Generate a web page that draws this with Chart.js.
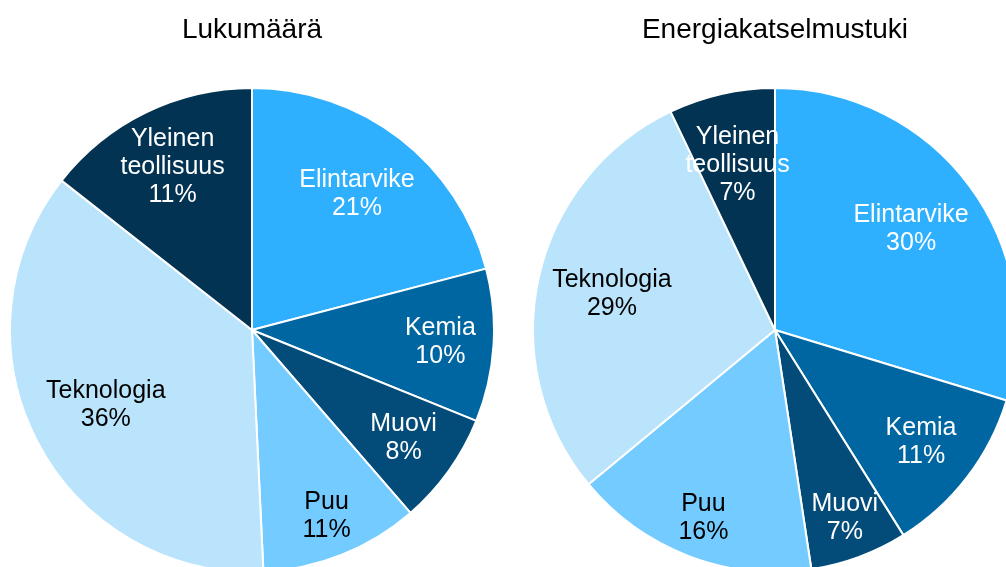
<!DOCTYPE html>
<html>
<head>
<meta charset="utf-8">
<script src="https://cdn.jsdelivr.net/npm/chart.js@4/dist/chart.umd.min.js"></script>
<style>
  html, body { margin: 0; padding: 0; background: #fff; overflow: hidden; width: 1006px; height: 567px; }
  .pie { position: absolute; top: 0; width: 486px; height: 573px; }
</style>
</head>
<body>
<div class="pie" style="left: 9px;"><canvas id="lukuChart"></canvas></div>
<div class="pie" style="left: 532px;"><canvas id="energiaChart"></canvas></div>
<script>
// categories (same order in both pies, clockwise from 12 o'clock)
const categories = ['Elintarvike', 'Kemia', 'Muovi', 'Puu', 'Teknologia', 'Yleinen teollisuus'];

// slice sizes
const lukuValues = [20.9, 10.2, 7.5, 10.6, 36.3, 14.4];
const energiaValues = [29.7, 11.4, 6.5, 16.4, 28.9, 7.1];

// percentage texts as printed on the slices
const lukuPct = ['21%', '10%', '8%', '11%', '36%', '11%'];
const energiaPct = ['30%', '11%', '7%', '16%', '29%', '7%'];

const sliceColors = ['#2EB0FF', '#0066A1', '#034C7A', '#73CBFF', '#BAE4FC', '#033352'];
const textColors = ['#fff', '#fff', '#fff', '#000', '#000', '#fff'];

const sliceLabels = {
    id: 'sliceLabels',
    afterDatasetsDraw(chart, args, opts) {
        const ctx = chart.ctx;
        const arcs = chart.getDatasetMeta(0).data;
        ctx.save();
        ctx.font = '25px "Liberation Sans", Arial, sans-serif';
        ctx.textAlign = 'center';
        ctx.textBaseline = 'middle';
        arcs.forEach((arc, i) => {
            const p = arc.getProps(['x', 'y', 'startAngle', 'endAngle', 'outerRadius'], true);
            const mid = (p.startAngle + p.endAngle) / 2;
            const r = p.outerRadius * opts.radius[i];
            const cx = p.x + Math.cos(mid) * r;
            const cy = p.y + Math.sin(mid) * r;
            const lines = categories[i].split(' ').concat([opts.pct[i]]);
            const lh = 28;
            ctx.fillStyle = textColors[i];
            lines.forEach((line, j) => {
                ctx.fillText(line, cx, cy + (j - (lines.length - 1) / 2) * lh);
            });
        });
        ctx.restore();
    }
};

function makePie(id, title, values, pct, radius) {
    return new Chart(document.getElementById(id), {
        type: 'pie',
        data: {
            labels: categories,
            datasets: [{
                data: values,
                backgroundColor: sliceColors,
                borderColor: '#fff',
                borderWidth: 2
            }]
        },
        options: {
            responsive: true,
            maintainAspectRatio: false,
            animation: false,
            layout: { padding: 0 },
            plugins: {
                legend: { display: false },
                tooltip: { enabled: false },
                title: {
                    display: true,
                    text: title,
                    color: '#000',
                    font: { family: '"Liberation Sans", Arial, sans-serif', size: 28, weight: 'normal', lineHeight: 1.2 },
                    padding: { top: 13.2, bottom: 40.2 }
                },
                sliceLabels: { pct: pct, radius: radius }
            }
        },
        plugins: [sliceLabels]
    });
}

makePie('lukuChart', 'Lukumäärä', lukuValues, lukuPct, [0.71, 0.78, 0.77, 0.83, 0.68, 0.75]);
makePie('energiaChart', 'Energiakatselmustuki', energiaValues, energiaPct, [0.70, 0.76, 0.83, 0.83, 0.69, 0.70]);
</script>
</body>
</html>
